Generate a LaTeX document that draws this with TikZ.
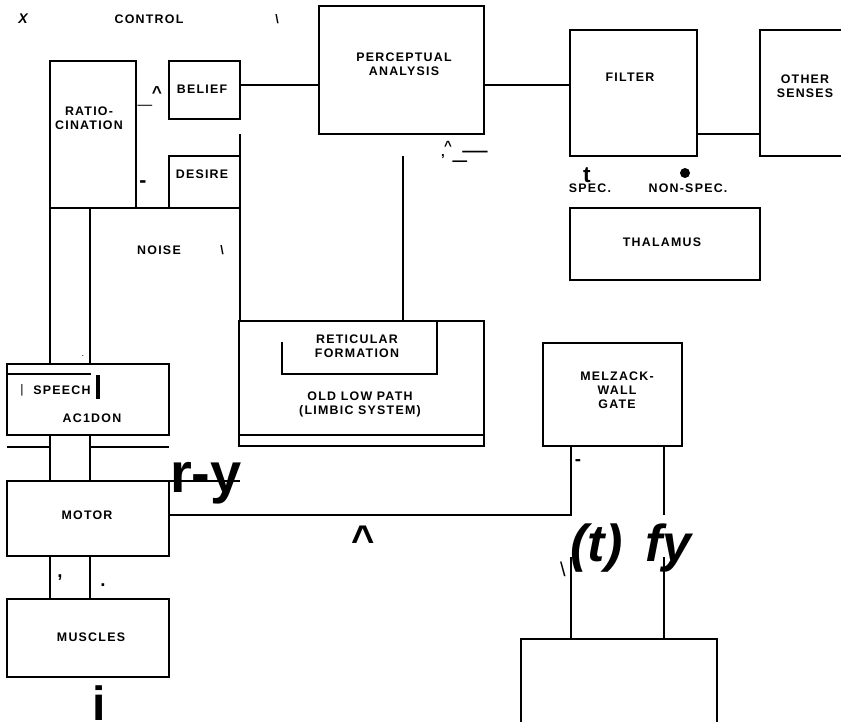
\documentclass[tikz,border=0pt]{standalone}
\usepackage{fontspec}
\setmainfont{Liberation Sans}
\newfontfamily\labfam{Liberation Sans}[LetterSpace=10]
\usetikzlibrary{fit}
\newcommand\labfont{\labfam\bfseries\fontsize{9.3}{10.5}\selectfont}
\newcommand\bigfont[1]{\bfseries\fontsize{#1}{#1}\selectfont}
\tikzset{
  box/.style={draw, inner sep=0pt, outer sep=0pt, fit={#1}},
  lab/.style={font=\labfont, align=center, inner sep=0pt},
  mk/.style={inner sep=0pt}}
\begin{document}
\begin{tikzpicture}[x=0.75pt,y=-0.75pt,line width=0.9pt]
\useasboundingbox (0,0) rectangle (841,721);
% boxes
\node[box={(50,61) (136,208)}] (rat) {};
\node[box={(169,61) (240,119)}] (belief) {};
\node[box={(169,156) (240,208)}] (desire) {};
\node[box={(319,6) (484,134)}] (perc) {};
\node[box={(570,30) (697,156)}] (filter) {};
\node[box={(570,208) (760,280)}] (thal) {};
\node[box={(239,321) (484,446)}] (old) {};
\node[box={(543,343) (682,446)}] (gate) {};
\node[box={(7,364) (169,435)}] (speech) {};
\node[box={(7,481) (169,556)}] (motor) {};
\node[box={(7,599) (169,677)}] (muscles) {};
% open shapes
\coordinate (othA) at (841,30); \coordinate (othB) at (760,30);
\coordinate (othC) at (760,156); \coordinate (othD) at (841,156);
\draw (othA) -- (othB) -- (othC) -- (othD);
\coordinate (botA) at (521,722); \coordinate (botB) at (521,639);
\coordinate (botC) at (717,639); \coordinate (botD) at (717,722);
\draw (botA) -- (botB) -- (botC) -- (botD);
\coordinate (retA) at (282,342); \coordinate (retB) at (282,374);
\coordinate (retC) at (437,374); \coordinate (retD) at (437,321);
\draw (retA) -- (retB) -- (retC) -- (retD);
\coordinate (oldL) at (239,435); \coordinate (oldR) at (484,435);
\draw (oldL) -- (oldR);
\coordinate (spL) at (7,374); \coordinate (spR) at (91,374);
\draw (spL) -- (spR);
% connectors
\coordinate (y85) at (0,85); \coordinate (y134) at (0,134); \coordinate (y515) at (0,515);
\draw (belief.east |- y85) -- (perc.west |- y85);
\draw (perc.east |- y85) -- (filter.west |- y85);
\draw (filter.east |- y134) -- (othC |- y134);
\coordinate (v240a) at (240,134);
\draw (v240a) -- (old.north -| v240a);
\draw (rat.south east) -- (desire.south west);
\coordinate (c50) at (50,0); \coordinate (c90) at (90,0);
\draw (rat.south west) -- (speech.north -| c50);
\draw (rat.south -| c90) -- (speech.north -| c90);
\draw (speech.south -| c50) -- (motor.north -| c50);
\draw (speech.south -| c90) -- (motor.north -| c90);
\coordinate (h447a) at (7,447); \coordinate (h447b) at (50,447);
\coordinate (h447c) at (89,447); \coordinate (h447d) at (169,447);
\draw (h447a) -- (h447b); \draw (h447c) -- (h447d);
\coordinate (mtx) at (240,481);
\draw (motor.north east) -- (mtx);
\coordinate (c571) at (571,515);
\draw (motor.east |- y515) -- (c571) -- (gate.south -| c571);
\draw (motor.south -| c50) -- (muscles.north -| c50);
\draw (motor.south -| c90) -- (muscles.north -| c90);
\coordinate (v403) at (403,156);
\draw (v403) -- (old.north -| v403);
\coordinate (g664a) at (664,515); \coordinate (g664b) at (664,557);
\draw (gate.south -| g664a) -- (g664a);
\draw (g664b) -- (botC -| g664b);
\coordinate (g571b) at (571,557);
\draw (g571b) -- (botB -| g571b);
% texts
\node[lab,font=\labfont\fontsize{10.5}{10.5}\selectfont] (tx) at (23,19) {\itshape X};
\node[lab] (tcontrol) at (149,19) {CONTROL};
\node[lab] (tbs1) at (277,19) {\textbackslash};
\node[lab] (trat) at (89,118) {RATIO-\\CINATION};
\node[lab] (tbelief) at (202,89) {BELIEF};
\node[lab] (tdesire) at (202,174) {DESIRE};
\node[mk,font=\bigfont{13}] (tcar1) at (157,93) {\^{}};
\node[mk,font=\fontsize{11}{11}\selectfont] (tdash1) at (145,107) {—};
\node[mk,font=\bigfont{16}] (thy1) at (143,184) {-};
\node[lab] (tnoise) at (159,250) {NOISE};
\node[lab] (tbs2) at (222,250) {\textbackslash};
\node[mk,font=\fontsize{7}{7}\selectfont] (tdot1) at (83,356) {.};
\node[mk,font=\fontsize{9.3}{9.3}\selectfont] (tbar1) at (22,390) {|};
\node[lab] (tspeech) at (62,390) {SPEECH};
\node[mk] (tbar2) at (98,387) {\rule{3pt}{18pt}};
\node[lab] (taction) at (92,418) {AC1DON};
\node[lab] (tmotor) at (87,515) {MOTOR};
\node[lab] (tmuscles) at (91,637) {MUSCLES};
\node[mk,font=\bigfont{14}] (tcomma1) at (60,578) {,};
\node[mk,font=\bigfont{14}] (tdot2) at (103,585) {.};
\node[mk,font=\bigfont{42},anchor=base] (try) at (206,492) {r-y};
\node[mk,font=\bigfont{36},anchor=base] (ti) at (99,720) {i};
\node[lab] (tperc) at (404,64) {PERCEPTUAL\\ANALYSIS};
\node[mk,font=\bigfont{10}] (tcar2) at (448,146) {\^{}};
\node[mk,font=\bigfont{10}] (tcomma2) at (443,157) {,};
\node[mk,font=\fontsize{19}{19}\selectfont,anchor=base] (tus) at (460,157) {\_};
\node[mk,font=\fontsize{19}{19}\selectfont] (tdash2) at (475,155) {—};
\node[lab] (tfilter) at (630,77) {FILTER};
\node[lab] (tother) at (805,86) {OTHER\\SENSES};
\node[mk,font=\bigfont{17}] (tt) at (587,175) {t};
\node[lab] (tspec) at (590,188) {SPEC.};
\node[lab] (tnonspec) at (688,188) {NON-SPEC.};
\node[mk,circle,fill,minimum size=7.5pt] (tbullet) at (685,173) {};
\node[lab] (tthal) at (662,242) {THALAMUS};
\node[lab] (tret) at (357,346) {RETICULAR\\FORMATION};
\node[lab] (told) at (360,404) {OLD LOW PATH\\(LIMBIC SYSTEM)};
\node[lab] (tgate) at (617,390) {MELZACK-\\WALL\\GATE};
\node[mk,font=\bigfont{14}] (thy2) at (578,463) {-};
\node[mk,font=\bigfont{30}] (tcar3) at (363,540) {\^{}};
\node[mk,font=\bigfont{39}\itshape,anchor=base west] (tpt) at (570,561) {(t)};
\node[mk,font=\bigfont{39}\itshape,anchor=base west] (tfy) at (645,561) {fy};
\node[mk,font=\fontsize{15}{15}\selectfont] (tbs3) at (563,569) {\textbackslash};
\end{tikzpicture}
\end{document}
